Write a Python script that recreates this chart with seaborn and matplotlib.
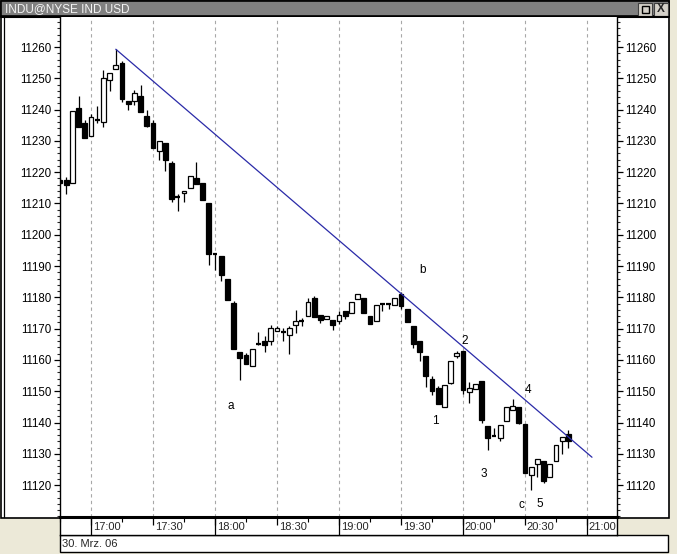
import numpy as np
import pandas as pd
import matplotlib
matplotlib.use("Agg")
import matplotlib.pyplot as plt
import seaborn as sns
from matplotlib.patches import Rectangle
from matplotlib.ticker import MultipleLocator

# ---------------- data ----------------
bar_times = pd.date_range("2006-03-30 16:45", periods=83, freq="3min")
opens = [11217.6, 11217.4, 11216.5, 11240.6, 11235.6, 11231.5, 11236.8, 11236.2, 11249.5, 11253.0,
         11255.0, 11242.6, 11242.6, 11244.4, 11238.1, 11235.6, 11226.8, 11229.2, 11223.0, 11212.0,
         11213.2, 11214.8, 11218.3, 11216.7, 11210.2, 11194.0, 11193.2, 11186.0, 11178.1, 11162.5,
         11161.7, 11158.2, 11165.1, 11165.9, 11165.9, 11169.3, 11168.8, 11168.0, 11171.2, 11172.3,
         11173.9, 11179.7, 11174.2, 11173.2, 11172.8, 11172.3, 11175.5, 11174.9, 11179.5, 11179.9,
         11173.9, 11172.3, 11178.1, 11178.0, 11177.6, 11181.0, 11176.2, 11170.9, 11166.1, 11161.2,
         11154.0, 11151.1, 11145.0, 11152.7, 11161.2, 11162.7, 11149.8, 11150.8, 11153.2, 11138.9,
         11135.6, 11135.2, 11140.5, 11143.9, 11144.8, 11139.5, 11123.1, 11126.7, 11127.8, 11122.5,
         11127.8, 11134.2, 11136.3]
highs = [11218.0, 11218.4, 11239.4, 11244.2, 11236.8, 11238.7, 11241.0, 11252.7, 11251.7, 11259.3,
         11255.6, 11242.6, 11246.3, 11247.9, 11240.0, 11236.8, 11230.0, 11229.2, 11223.6, 11213.0,
         11213.9, 11218.8, 11223.1, 11216.7, 11210.2, 11194.3, 11193.2, 11186.0, 11178.8, 11162.5,
         11162.2, 11163.5, 11168.9, 11167.5, 11171.2, 11170.9, 11170.2, 11171.0, 11175.8, 11173.5,
         11179.7, 11180.5, 11174.2, 11173.9, 11172.8, 11175.5, 11175.5, 11178.4, 11181.0, 11179.9,
         11173.9, 11177.4, 11178.1, 11178.0, 11179.7, 11181.8, 11176.2, 11170.9, 11166.1, 11161.2,
         11154.8, 11151.6, 11152.0, 11159.8, 11163.0, 11162.7, 11152.9, 11152.2, 11153.2, 11138.9,
         11138.4, 11139.3, 11144.8, 11147.4, 11144.8, 11139.5, 11125.7, 11128.3, 11127.8, 11126.6,
         11132.9, 11135.5, 11137.6]
lows = [11216.3, 11213.0, 11216.5, 11234.6, 11230.8, 11231.5, 11235.8, 11234.6, 11245.8, 11253.0,
        11242.3, 11240.0, 11241.6, 11239.1, 11234.5, 11227.8, 11223.9, 11220.4, 11210.5, 11207.7,
        11210.4, 11214.8, 11216.2, 11211.2, 11190.3, 11188.7, 11185.2, 11179.1, 11163.5, 11153.7,
        11158.7, 11158.2, 11164.8, 11162.5, 11164.9, 11169.3, 11165.9, 11162.0, 11168.6, 11170.8,
        11173.9, 11173.6, 11171.7, 11173.2, 11169.6, 11171.5, 11173.0, 11174.9, 11179.5, 11174.9,
        11171.4, 11172.3, 11175.5, 11176.3, 11177.6, 11176.3, 11172.0, 11163.8, 11159.6, 11151.3,
        11148.8, 11145.8, 11145.0, 11152.2, 11160.5, 11149.0, 11146.3, 11150.8, 11139.7, 11131.2,
        11135.6, 11134.2, 11140.5, 11143.9, 11139.5, 11123.8, 11118.5, 11122.5, 11120.6, 11122.5,
        11127.8, 11130.0, 11132.0]
closes = [11216.6, 11215.8, 11239.4, 11234.6, 11230.8, 11237.6, 11236.8, 11250.2, 11251.7, 11254.3,
          11243.5, 11241.9, 11245.4, 11239.1, 11234.9, 11227.8, 11230.0, 11223.9, 11211.4, 11212.0,
          11213.9, 11218.8, 11216.2, 11211.2, 11193.7, 11194.0, 11187.1, 11179.1, 11163.5, 11160.6,
          11158.7, 11163.5, 11164.8, 11164.7, 11170.2, 11170.2, 11168.8, 11170.2, 11172.6, 11172.3,
          11178.6, 11173.6, 11172.7, 11173.9, 11171.2, 11174.4, 11173.9, 11178.4, 11181.0, 11174.9,
          11171.4, 11177.4, 11177.6, 11178.0, 11179.7, 11177.3, 11172.0, 11165.2, 11162.4, 11155.0,
          11150.0, 11145.8, 11152.0, 11159.8, 11162.2, 11150.5, 11151.1, 11152.2, 11140.7, 11135.0,
          11135.6, 11139.3, 11144.8, 11145.3, 11140.0, 11123.8, 11125.7, 11128.3, 11121.3, 11126.6,
          11132.9, 11135.5, 11134.0]

trend_times = ["17:12", "21:02:24"]
trend_values = [11259.3, 11128.9]

wave_labels = ["a", "b", "1", "2", "3", "4", "c", "5"]
wave_times = ["18:07:42", "19:40:12", "19:46:30", "20:01:00", "20:10:12", "20:31:30", "20:28:30", "20:37:12"]
wave_values = [11145.4, 11188.6, 11140.6, 11166.0, 11123.5, 11150.5, 11113.7, 11114.0]

time_labels = ["17:00", "17:30", "18:00", "18:30", "19:00", "19:30", "20:00", "20:30", "21:00"]
price_ticks = [11120, 11130, 11140, 11150, 11160, 11170, 11180, 11190, 11200,
               11210, 11220, 11230, 11240, 11250, 11260]
title_text = "INDU@NYSE IND USD"
date_text = "30. Mrz. 06"

# ---------------- helpers ----------------
base = pd.Timestamp("2006-03-30 17:00")


def to_min(ts):
    return (pd.Timestamp(ts) - base).total_seconds() / 60.0


def hm_to_min(s):
    return to_min("2006-03-30 " + s)


W, H = 677, 554


def frect(x0, y0, x1, y1):
    # pixel box (top-left origin) -> figure fraction rect
    return [x0 / W, 1 - y1 / H, (x1 - x0) / W, (y1 - y0) / H]


sns.set_theme(style="white")
plt.rcParams["font.family"] = ["Liberation Sans", "DejaVu Sans"]

BEIGE = "#ece9d8"
fig = plt.figure(figsize=(W / 100, H / 100), dpi=100, facecolor=BEIGE)

# window background and title bar
bg = fig.add_axes(frect(0, 0, W, H), zorder=-10)
bg.set_xlim(0, W)
bg.set_ylim(H, 0)
bg.axis("off")
bg.add_patch(Rectangle((1, 1), 668, 517, facecolor="white", edgecolor="black", lw=1.2))
bg.plot([3.5, 3.5], [17, 517], color="black", lw=0.9)
bg.add_patch(Rectangle((1, 1), 668, 15, facecolor="#808080", edgecolor="black", lw=1.2))
bg.plot([1, 669], [16.5, 16.5], color="black", lw=1.5)
bg.text(5, 9, title_text, color="#f4f4f4", fontsize=8.5, va="center", ha="left")
bg.add_patch(Rectangle((638, 2.5), 14, 13, facecolor="#d4d0c8", edgecolor="#404040", lw=0.8))
bg.add_patch(Rectangle((641.5, 5.5), 7, 7, facecolor="none", edgecolor="black", lw=1.0))
bg.add_patch(Rectangle((654, 2.5), 14, 13, facecolor="#d4d0c8", edgecolor="#404040", lw=0.8))
bg.text(661, 9.5, "X", fontsize=8.5, fontweight="bold", ha="center", va="center")
bg.add_patch(Rectangle((60, 535), 608, 17, facecolor="white", edgecolor="black", lw=1.0))
bg.text(62, 544, date_text, fontsize=8, va="center", ha="left")

# ---------------- main chart ----------------
ax = fig.add_axes(frect(60, 17, 617, 517))
ax.set_facecolor("white")
mins = np.array([to_min(t) for t in bar_times])
o = np.array(opens); h = np.array(highs); l = np.array(lows); c = np.array(closes)

xmin, xmax = -15.0, 254.5
ax.set_xlim(xmin, xmax)
ax.set_ylim(11109.8, 11269.6)

for gx in np.arange(0, 241, 30):
    ax.axvline(gx, color="#a8a8a8", lw=0.8, ls=(0, (3, 3)), zorder=0)

ax.vlines(mins, l, h, color="black", lw=0.9, zorder=2)
bw = 2.3
up = c >= o
body = np.abs(c - o) >= 0.6
ax.bar(mins[body & up], (c - o)[body & up], bottom=o[body & up], width=bw,
       color="white", edgecolor="black", linewidth=0.9, zorder=3)
ax.bar(mins[body & ~up], (c - o)[body & ~up], bottom=o[body & ~up], width=bw,
       color="black", edgecolor="black", linewidth=0.9, zorder=3)
doji = ~body
ax.hlines((o[doji] + c[doji]) / 2, mins[doji] - bw / 2, mins[doji] + bw / 2,
          color="black", lw=1.6, zorder=3)

trend = pd.DataFrame({"t": [hm_to_min(s) for s in trend_times], "v": trend_values})
sns.lineplot(data=trend, x="t", y="v", ax=ax, color="#2a2aa8", lw=0.9, zorder=4)

for lab, tt, vv in zip(wave_labels, wave_times, wave_values):
    ax.text(hm_to_min(tt), vv, lab, fontsize=8.5, ha="center", va="center", color="black")

ax.set_xlabel("")
ax.set_ylabel("")
ax.set_xticks([])
ax.set_yticks(price_ticks)
ax.set_yticklabels([str(p) for p in price_ticks])
ax.yaxis.set_minor_locator(MultipleLocator(2))
ax.tick_params(axis="y", which="major", direction="out", length=4.5, width=0.9,
               left=True, right=True, labelleft=True, labelright=True,
               labelsize=8.3, pad=1.5, colors="black")
ax.tick_params(axis="y", which="minor", direction="out", length=2.5, width=0.8,
               left=True, right=True)
for side in ["left", "right"]:
    ax.spines[side].set_visible(True)
    ax.spines[side].set_color("black")
    ax.spines[side].set_linewidth(1.0)
ax.spines["top"].set_visible(False)
ax.spines["bottom"].set_visible(False)
ax.grid(False)

# ---------------- time axis ----------------
tx = fig.add_axes(frect(60, 517, 617, 535))
tx.set_facecolor("white")
tx.set_xlim(xmin, xmax)
tx.set_ylim(0, 1)
tx.set_yticks([])
tx.set_xticks(np.arange(0, 241, 30))
tx.set_xticklabels([])
tx.xaxis.set_minor_locator(MultipleLocator(15))
tx.tick_params(axis="x", which="major", direction="in", top=True, bottom=False,
               length=6, width=0.9, colors="black")
tx.tick_params(axis="x", which="minor", direction="in", top=True, bottom=False,
               length=3.5, width=0.8, colors="black")
for i, lab in enumerate(time_labels):
    xm = hm_to_min(lab)
    if lab.endswith(":00"):
        tx.axvline(xm, color="black", lw=0.9)
    tx.text(xm + 0.8, 0.42, lab, fontsize=8, ha="left", va="center")
for s in ["left", "right", "bottom"]:
    tx.spines[s].set_visible(True)
    tx.spines[s].set_color("black")
    tx.spines[s].set_linewidth(1.0)
tx.spines["top"].set_visible(True)
tx.spines["top"].set_color("black")
tx.spines["top"].set_linewidth(2.2)

fig.savefig("out.png", dpi=100, facecolor=fig.get_facecolor())
